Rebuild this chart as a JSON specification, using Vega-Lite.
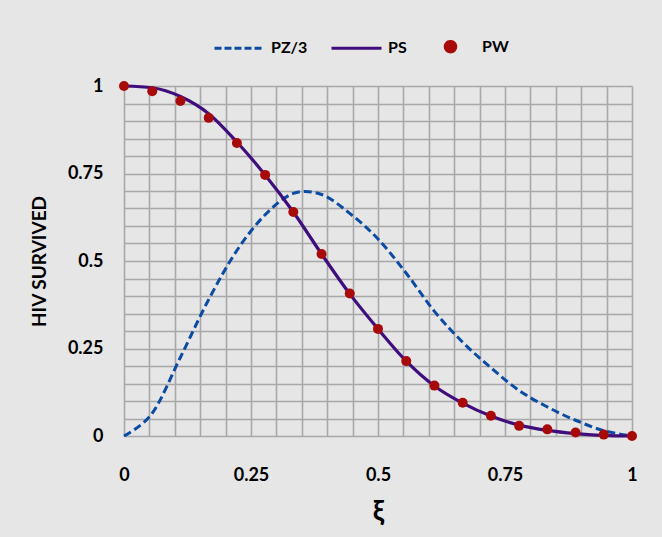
{
  "$schema": "https://vega.github.io/schema/vega-lite/v6.json",
  "width": 508,
  "height": 350,
  "autosize": "none",
  "padding": {"left": 124, "top": 86, "right": 30, "bottom": 101},
  "background": "#e6e6e6",
  "config": {
    "view": {"stroke": null},
    "font": "Lato",
    "axis": {
      "ticks": false,
      "domain": false,
      "grid": true,
      "gridColor": "#a8a8a8",
      "gridWidth": 1.6,
      "labelFont": "Lato",
      "labelFontWeight": "bold",
      "labelFontSize": 18,
      "labelColor": "#000000",
      "labelOverlap": false,
      "labelFlush": false,
      "titleFont": "Lato",
      "titleFontWeight": "bold",
      "titleColor": "#000000"
    }
  },
  "data": {
    "values": [
      {"x": 0, "y": 0, "series": "PZ/3"},
      {"x": 0.0556, "y": 0.065, "series": "PZ/3"},
      {"x": 0.1111, "y": 0.225, "series": "PZ/3"},
      {"x": 0.1667, "y": 0.39, "series": "PZ/3"},
      {"x": 0.2222, "y": 0.53, "series": "PZ/3"},
      {"x": 0.2778, "y": 0.632, "series": "PZ/3"},
      {"x": 0.3333, "y": 0.693, "series": "PZ/3"},
      {"x": 0.3889, "y": 0.69, "series": "PZ/3"},
      {"x": 0.4444, "y": 0.636, "series": "PZ/3"},
      {"x": 0.5, "y": 0.563, "series": "PZ/3"},
      {"x": 0.5556, "y": 0.465, "series": "PZ/3"},
      {"x": 0.6111, "y": 0.356, "series": "PZ/3"},
      {"x": 0.6667, "y": 0.268, "series": "PZ/3"},
      {"x": 0.7222, "y": 0.195, "series": "PZ/3"},
      {"x": 0.7778, "y": 0.13, "series": "PZ/3"},
      {"x": 0.8333, "y": 0.083, "series": "PZ/3"},
      {"x": 0.8889, "y": 0.045, "series": "PZ/3"},
      {"x": 0.9444, "y": 0.015, "series": "PZ/3"},
      {"x": 1, "y": 0, "series": "PZ/3"},
      {"x": 0, "y": 1, "series": "PS"},
      {"x": 0.0556, "y": 0.995, "series": "PS"},
      {"x": 0.1111, "y": 0.97, "series": "PS"},
      {"x": 0.1667, "y": 0.921, "series": "PS"},
      {"x": 0.2222, "y": 0.84, "series": "PS"},
      {"x": 0.2778, "y": 0.746, "series": "PS"},
      {"x": 0.3333, "y": 0.64, "series": "PS"},
      {"x": 0.3889, "y": 0.52, "series": "PS"},
      {"x": 0.4444, "y": 0.406, "series": "PS"},
      {"x": 0.5, "y": 0.306, "series": "PS"},
      {"x": 0.5556, "y": 0.214, "series": "PS"},
      {"x": 0.6111, "y": 0.143, "series": "PS"},
      {"x": 0.6667, "y": 0.094, "series": "PS"},
      {"x": 0.7222, "y": 0.057, "series": "PS"},
      {"x": 0.7778, "y": 0.031, "series": "PS"},
      {"x": 0.8333, "y": 0.016, "series": "PS"},
      {"x": 0.8889, "y": 0.007, "series": "PS"},
      {"x": 0.9444, "y": 0.002, "series": "PS"},
      {"x": 1, "y": 0, "series": "PS"},
      {"x": 0, "y": 1, "series": "PW"},
      {"x": 0.0556, "y": 0.985, "series": "PW"},
      {"x": 0.1111, "y": 0.957, "series": "PW"},
      {"x": 0.1667, "y": 0.909, "series": "PW"},
      {"x": 0.2222, "y": 0.837, "series": "PW"},
      {"x": 0.2778, "y": 0.746, "series": "PW"},
      {"x": 0.3333, "y": 0.64, "series": "PW"},
      {"x": 0.3889, "y": 0.52, "series": "PW"},
      {"x": 0.4444, "y": 0.407, "series": "PW"},
      {"x": 0.5, "y": 0.306, "series": "PW"},
      {"x": 0.5556, "y": 0.214, "series": "PW"},
      {"x": 0.6111, "y": 0.144, "series": "PW"},
      {"x": 0.6667, "y": 0.095, "series": "PW"},
      {"x": 0.7222, "y": 0.058, "series": "PW"},
      {"x": 0.7778, "y": 0.029, "series": "PW"},
      {"x": 0.8333, "y": 0.019, "series": "PW"},
      {"x": 0.8889, "y": 0.01, "series": "PW"},
      {"x": 0.9444, "y": 0.004, "series": "PW"},
      {"x": 1, "y": 0, "series": "PW"}
    ]
  },
  "encoding": {
    "x": {
      "field": "x", "type": "quantitative",
      "scale": {"domain": [0, 1], "nice": false},
      "axis": {
        "title": "ξ", "titleFontSize": 28, "labelPadding": 30, "titlePadding": 14,
        "format": "~g",
        "labelExpr": "indexof(['0','0.25','0.5','0.75','1'], datum.label) >= 0 ? datum.label : ''",
        "values": [0, 0.05, 0.1, 0.15, 0.2, 0.25, 0.3, 0.35, 0.4, 0.45, 0.5, 0.55, 0.6, 0.65, 0.7, 0.75, 0.8, 0.85, 0.9, 0.95, 1]
      }
    },
    "y": {
      "field": "y", "type": "quantitative",
      "scale": {"domain": [0, 1], "nice": false},
      "axis": {
        "title": "HIV SURVIVED", "titleFontSize": 19, "labelPadding": 21, "titlePadding": 18,
        "format": "~g",
        "labelExpr": "indexof(['0','0.25','0.5','0.75','1'], datum.label) >= 0 ? datum.label : ''",
        "values": [0, 0.05, 0.1, 0.15, 0.2, 0.25, 0.3, 0.35, 0.4, 0.45, 0.5, 0.55, 0.6, 0.65, 0.7, 0.75, 0.8, 0.85, 0.9, 0.95, 1]
      }
    },
    "color": {
      "field": "series", "type": "nominal",
      "scale": {"domain": ["PZ/3", "PS", "PW"], "range": ["#0b4ba3", "#3f0e7c", "#a80a0a"]},
      "legend": {
        "title": null,
        "orient": "none",
        "direction": "horizontal",
        "legendX": 89,
        "legendY": -66,
        "symbolType": "stroke",
        "symbolSize": 2500,
        "symbolStrokeWidth": 3,
        "labelOffset": 5,
        "columnPadding": 17,
        "labelFont": "Lato",
        "labelFontSize": 16,
        "labelFontWeight": "bold",
        "labelColor": "#000000",
        "encode": {
          "symbols": {
            "update": {
              "shape": {"signal": "datum.value === 'PW' ? 'M-0.21,0A0.21,0.21 0 1,0 0.21,0A0.21,0.21 0 1,0 -0.21,0Z' : 'stroke'"},
              "size": {"value": 2500},
              "fill": {"signal": "datum.value === 'PW' ? '#a80a0a' : 'transparent'"},
              "stroke": {"signal": "datum.value === 'PZ/3' ? '#0b4ba3' : (datum.value === 'PS' ? '#3f0e7c' : 'transparent')"},
              "strokeDash": {"signal": "datum.value === 'PZ/3' ? [7,3] : [1,0]"},
              "strokeWidth": {"value": 3},
              "opacity": {"value": 1}
            }
          }
        }
      }
    }
  },
  "layer": [
    {
      "transform": [{"filter": "datum.series === 'PZ/3'"}],
      "mark": {"type": "line", "interpolate": "cardinal", "strokeDash": [8, 4], "strokeWidth": 3}
    },
    {
      "transform": [{"filter": "datum.series === 'PS'"}],
      "mark": {"type": "line", "interpolate": "monotone", "strokeWidth": 3.2}
    },
    {
      "transform": [{"filter": "datum.series === 'PW'"}],
      "mark": {"type": "point", "filled": true, "size": 100, "opacity": 1}
    }
  ]
}
